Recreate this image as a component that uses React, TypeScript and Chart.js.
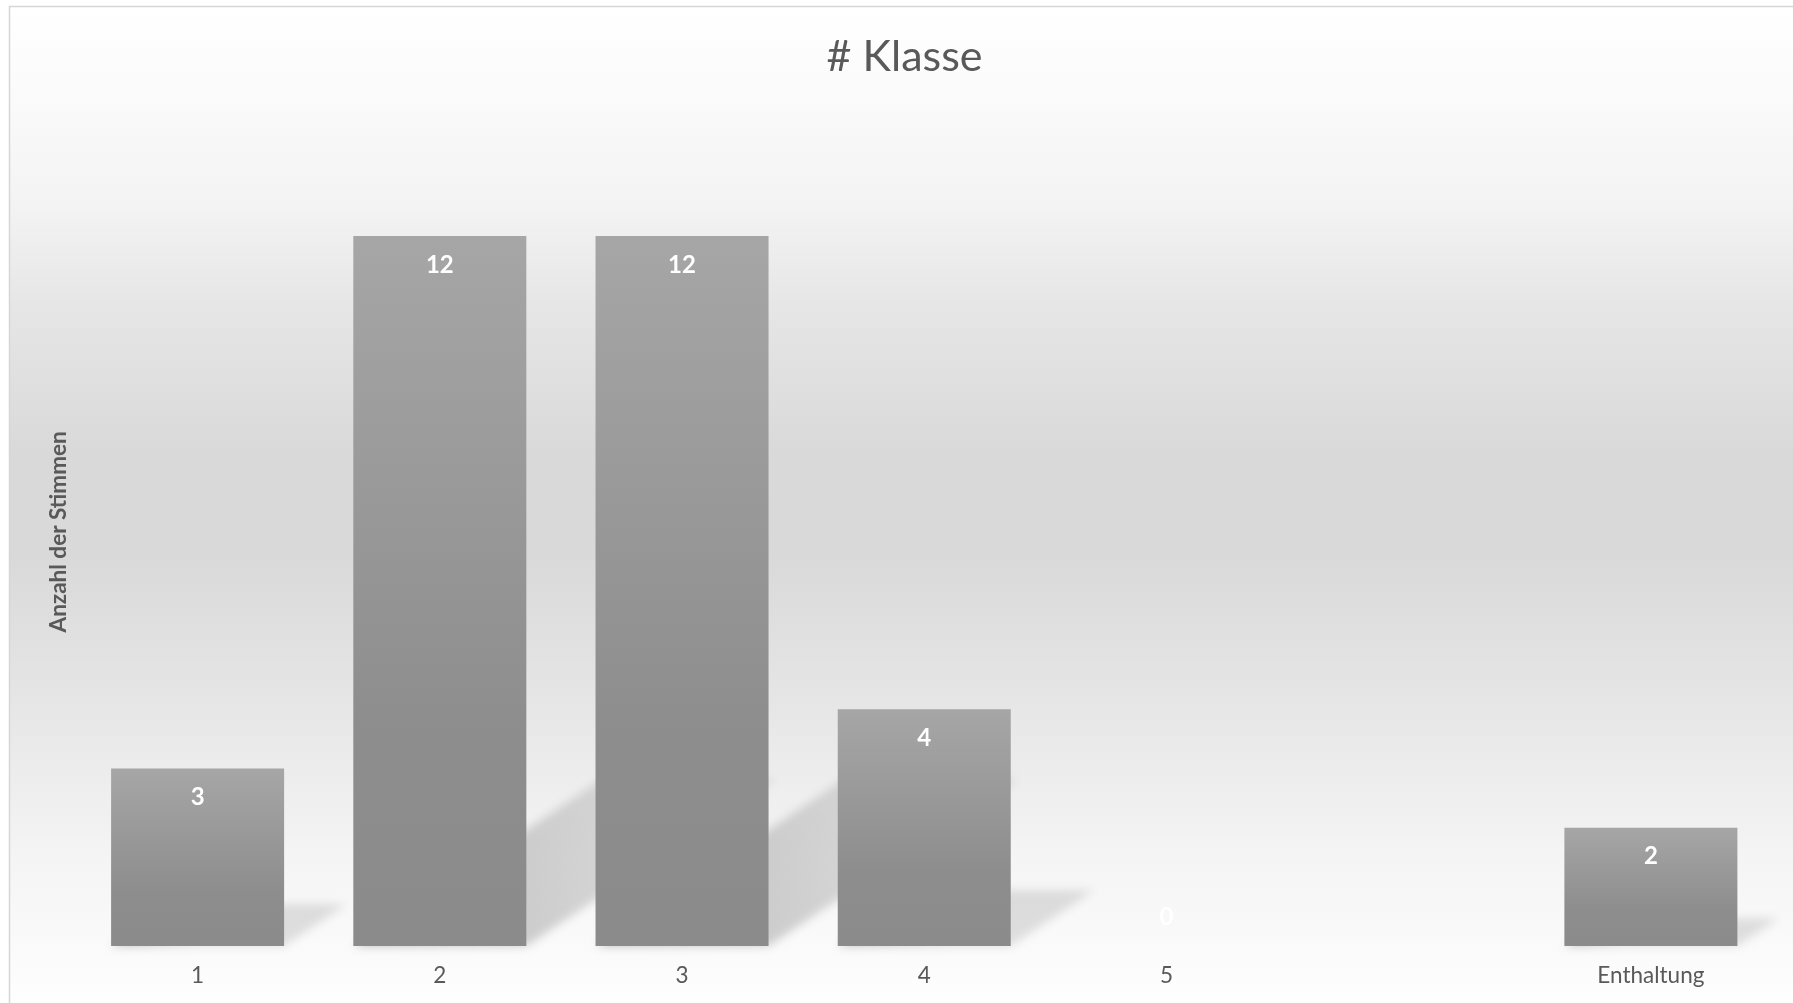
import React, { useEffect, useRef } from "react";
import { Chart, registerables } from "chart.js";

Chart.register(...registerables);

// ---- data ----
const categories: string[] = ["1", "2", "3", "4", "5", "", "Enthaltung"];
const votes: (number | null)[] = [3, 12, 12, 4, 0, null, 2];
const yMin = 0;
const yMax = 14;
const chartTitle = "# Klasse";
const yAxisTitle = "Anzahl der Stimmen";

// ---- style ----
const W = 1793;
const H = 1003;
const FONT = "Lato, 'Open Sans', sans-serif";
const TEXT = "#595959";

const backgroundPlugin = {
  id: "bgPlugin",
  beforeDraw(chart: any) {
    const ctx = chart.ctx as CanvasRenderingContext2D;
    ctx.save();
    ctx.fillStyle = "#ffffff";
    ctx.fillRect(0, 0, chart.width, chart.height);
    const g = ctx.createLinearGradient(0, 6, 0, chart.height);
    g.addColorStop(0, "#ffffff");
    g.addColorStop(0.1, "#fafafa");
    g.addColorStop(0.2, "#f3f3f3");
    g.addColorStop(0.3, "#e6e6e6");
    g.addColorStop(0.45, "#d9d9d9");
    g.addColorStop(0.55, "#d9d9d9");
    g.addColorStop(0.7, "#e6e6e6");
    g.addColorStop(0.85, "#f4f4f4");
    g.addColorStop(1, "#fefefe");
    ctx.fillStyle = g;
    ctx.fillRect(9, 6, chart.width - 9, chart.height - 6);
    ctx.strokeStyle = "#d6d6d6";
    ctx.lineWidth = 1.5;
    ctx.beginPath();
    ctx.moveTo(9.5, chart.height);
    ctx.lineTo(9.5, 6.5);
    ctx.lineTo(chart.width, 6.5);
    ctx.stroke();
    // chart title (centred on the full Excel chart box)
    ctx.font = `43px ${FONT}`;
    ctx.fillStyle = TEXT;
    ctx.textAlign = "center";
    ctx.textBaseline = "middle";
    ctx.fillText(chartTitle, 904.5, 57);
    ctx.restore();
  },
};

const shadowPlugin = {
  id: "shadowPlugin",
  beforeDatasetsDraw(chart: any) {
    const ctx = chart.ctx as CanvasRenderingContext2D;
    const meta = chart.getDatasetMeta(0);
    meta.data.forEach((el: any, i: number) => {
      const v = votes[i];
      if (v === null || v === 0) return;
      const { x, y, base, width } = el.getProps(["x", "y", "base", "width"], true);
      const h = base - y;
      const L = x - width / 2;
      const R = x + width / 2;
      const dx = 0.35 * h;
      const dy = 0.235 * h;
      ctx.save();
      ctx.filter = "blur(5px)";
      const g = ctx.createLinearGradient(L, base, L + dx, base - dy);
      g.addColorStop(0, "rgba(0,0,0,0.25)");
      g.addColorStop(1, "rgba(0,0,0,0.11)");
      ctx.fillStyle = g;
      ctx.beginPath();
      ctx.moveTo(L, base);
      ctx.lineTo(R, base);
      ctx.lineTo(R + dx, base - dy);
      ctx.lineTo(L + dx, base - dy);
      ctx.closePath();
      ctx.fill();
      ctx.restore();
    });
  },
};

const labelPlugin = {
  id: "labelPlugin",
  afterDatasetsDraw(chart: any) {
    const ctx = chart.ctx as CanvasRenderingContext2D;
    const meta = chart.getDatasetMeta(0);
    ctx.save();
    ctx.font = `bold 24px ${FONT}`;
    ctx.fillStyle = "#ffffff";
    ctx.textAlign = "center";
    ctx.textBaseline = "middle";
    meta.data.forEach((el: any, i: number) => {
      const v = votes[i];
      if (v === null) return;
      const { x, y } = el.getProps(["x", "y"], true);
      const ly = v > 0 ? y + 29 : y - 29;
      ctx.fillText(String(v), x, ly);
    });
    ctx.restore();
  },
};

export default function App() {
  const canvasRef = useRef<HTMLCanvasElement | null>(null);

  useEffect(() => {
    document.body.style.margin = "0";
    const canvas = canvasRef.current;
    if (!canvas) return;
    const chart = new Chart(canvas, {
      type: "bar",
      data: {
        labels: categories,
        datasets: [
          {
            data: votes,
            barPercentage: 1 / 1.4,
            categoryPercentage: 1,
            borderWidth: 0,
            backgroundColor: (c: any) => {
              const ch = c.chart;
              if (!ch.chartArea || c.type !== "data" || c.raw == null) return "#999999";
              const ys = ch.scales.y;
              const top = ys.getPixelForValue(c.raw);
              const bot = ys.getPixelForValue(0);
              if (bot - top < 1) return "#8c8c8c";
              const g = ch.ctx.createLinearGradient(0, top, 0, bot);
              g.addColorStop(0, "#a6a6a6");
              g.addColorStop(0.7, "#8d8d8d");
              g.addColorStop(1, "#8b8b8b");
              return g;
            },
          },
        ],
      },
      options: {
        responsive: false,
        animation: false,
        devicePixelRatio: 1,
        layout: { padding: { left: 9, right: 21, top: 117.7, bottom: -2 } },
        plugins: {
          legend: { display: false },
          tooltip: { enabled: false },
          title: { display: false },
        },
        scales: {
          x: {
            grid: { display: false, drawTicks: false },
            border: { display: false },
            ticks: {
              color: TEXT,
              font: { family: FONT, size: 22.5 },
              padding: 16,
              maxRotation: 0,
              autoSkip: false,
            },
          },
          y: {
            min: yMin,
            max: yMax,
            grid: { display: false, drawTicks: false },
            border: { display: false },
            ticks: { display: false },
            title: {
              display: true,
              text: yAxisTitle,
              color: TEXT,
              font: { family: FONT, size: 22.5, weight: "bold" },
              padding: { top: 36.5, bottom: 4 },
            },
          },
        },
      },
      plugins: [backgroundPlugin, shadowPlugin, labelPlugin],
    } as any);
    return () => chart.destroy();
  }, []);

  return (
    <div style={{ position: "fixed", left: 0, top: 0, width: W, height: H }}>
      <canvas ref={canvasRef} width={W} height={H} style={{ display: "block" }} />
    </div>
  );
}
